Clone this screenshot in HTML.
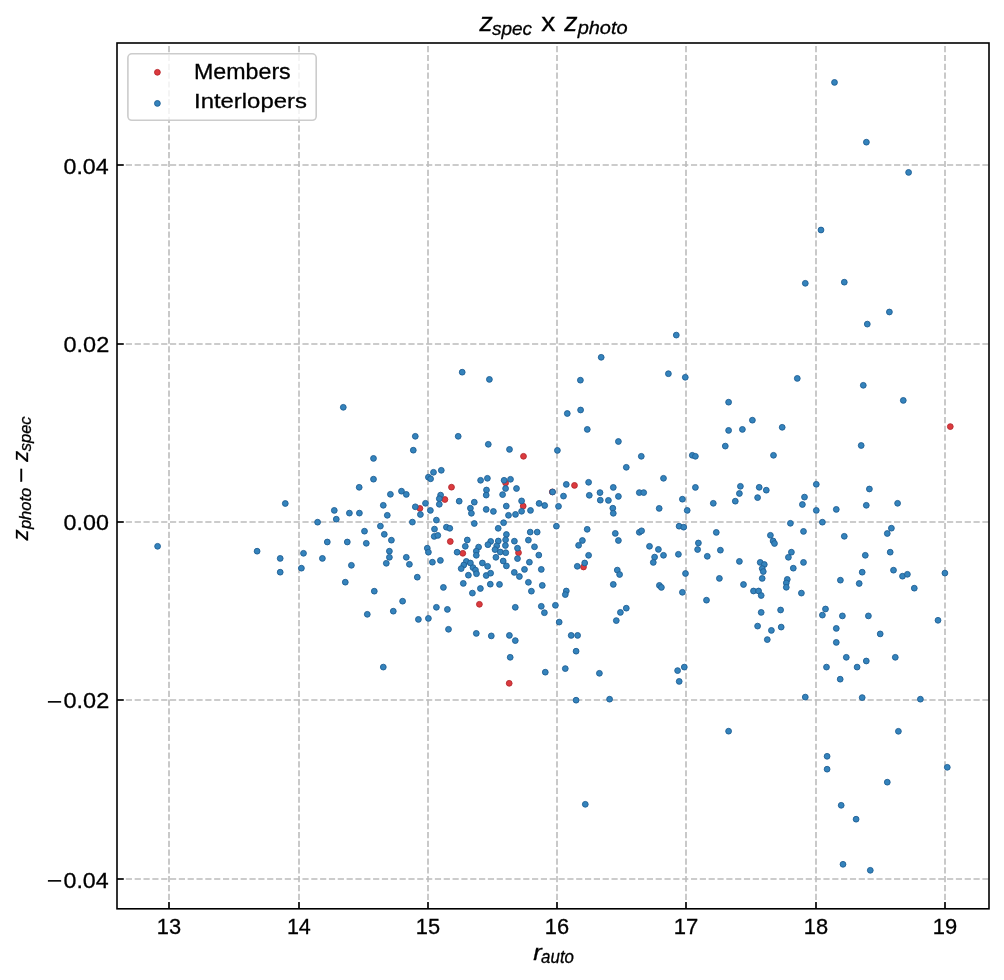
<!DOCTYPE html><html><head><meta charset="utf-8"><style>html,body{margin:0;padding:0;background:#fff;width:1004px;height:980px;overflow:hidden}svg{display:block;will-change:transform}text{font-family:"Liberation Sans",sans-serif;fill:#000;stroke:#000;stroke-width:0.3px;vector-effect:non-scaling-stroke}</style></head><body>
<svg width="1004" height="980" viewBox="0 0 1004 980">
<rect width="1004" height="980" fill="#fff"/>
<g stroke="#bcbcbc" stroke-width="1.6" stroke-dasharray="6.2 2.63" fill="none">
<line x1="169.00" y1="908.80" x2="169.00" y2="43.00"/>
<line x1="299.00" y1="908.80" x2="299.00" y2="43.00"/>
<line x1="428.00" y1="908.80" x2="428.00" y2="43.00"/>
<line x1="557.00" y1="908.80" x2="557.00" y2="43.00"/>
<line x1="686.00" y1="908.80" x2="686.00" y2="43.00"/>
<line x1="816.00" y1="908.80" x2="816.00" y2="43.00"/>
<line x1="945.00" y1="908.80" x2="945.00" y2="43.00"/>
<line x1="117.00" y1="165.00" x2="989.00" y2="165.00"/>
<line x1="117.00" y1="344.00" x2="989.00" y2="344.00"/>
<line x1="117.00" y1="522.00" x2="989.00" y2="522.00"/>
<line x1="117.00" y1="700.00" x2="989.00" y2="700.00"/>
<line x1="117.00" y1="879.00" x2="989.00" y2="879.00"/>
</g>
<g fill="#dc3a3e" stroke="#b32a30" stroke-width="0.9">
<circle cx="451.5" cy="487.2" r="2.9"/>
<circle cx="444.9" cy="499.5" r="2.9"/>
<circle cx="419.9" cy="508.4" r="2.9"/>
<circle cx="450.3" cy="541.5" r="2.9"/>
<circle cx="462.8" cy="553.3" r="2.9"/>
<circle cx="479.4" cy="604.3" r="2.9"/>
<circle cx="523.2" cy="506.1" r="2.9"/>
<circle cx="518.5" cy="552.7" r="2.9"/>
<circle cx="523.5" cy="456.3" r="2.9"/>
<circle cx="505.6" cy="482.9" r="2.9"/>
<circle cx="574.5" cy="485.4" r="2.9"/>
<circle cx="552.3" cy="491.9" r="2.9"/>
<circle cx="583.5" cy="567.0" r="2.9"/>
<circle cx="509.2" cy="683.3" r="2.9"/>
<circle cx="950.3" cy="426.6" r="2.9"/>
</g>
<g fill="#3483bc" stroke="#1f5f94" stroke-width="0.9">
<circle cx="157.6" cy="546.3" r="2.9"/>
<circle cx="285.3" cy="503.5" r="2.9"/>
<circle cx="257.1" cy="551.2" r="2.9"/>
<circle cx="280.2" cy="558.4" r="2.9"/>
<circle cx="280.2" cy="572.2" r="2.9"/>
<circle cx="303.5" cy="553.3" r="2.9"/>
<circle cx="301.4" cy="568.2" r="2.9"/>
<circle cx="317.6" cy="522.2" r="2.9"/>
<circle cx="334.3" cy="510.4" r="2.9"/>
<circle cx="336.3" cy="519.2" r="2.9"/>
<circle cx="327.3" cy="542.0" r="2.9"/>
<circle cx="322.4" cy="558.4" r="2.9"/>
<circle cx="349.4" cy="513.1" r="2.9"/>
<circle cx="359.4" cy="513.1" r="2.9"/>
<circle cx="359.2" cy="487.3" r="2.9"/>
<circle cx="373.5" cy="458.4" r="2.9"/>
<circle cx="373.5" cy="479.2" r="2.9"/>
<circle cx="347.3" cy="542.0" r="2.9"/>
<circle cx="364.5" cy="531.2" r="2.9"/>
<circle cx="366.3" cy="543.3" r="2.9"/>
<circle cx="351.4" cy="565.3" r="2.9"/>
<circle cx="345.3" cy="582.2" r="2.9"/>
<circle cx="374.3" cy="591.2" r="2.9"/>
<circle cx="367.3" cy="614.3" r="2.9"/>
<circle cx="390.4" cy="494.3" r="2.9"/>
<circle cx="383.3" cy="505.3" r="2.9"/>
<circle cx="387.3" cy="515.3" r="2.9"/>
<circle cx="380.4" cy="526.1" r="2.9"/>
<circle cx="384.3" cy="534.3" r="2.9"/>
<circle cx="391.4" cy="540.2" r="2.9"/>
<circle cx="389.4" cy="551.2" r="2.9"/>
<circle cx="389.4" cy="557.3" r="2.9"/>
<circle cx="386.3" cy="563.3" r="2.9"/>
<circle cx="393.3" cy="611.2" r="2.9"/>
<circle cx="413.3" cy="450.2" r="2.9"/>
<circle cx="488.3" cy="444.3" r="2.9"/>
<circle cx="441.3" cy="470.3" r="2.9"/>
<circle cx="433.5" cy="472.3" r="2.9"/>
<circle cx="428.4" cy="477.2" r="2.9"/>
<circle cx="430.6" cy="478.8" r="2.9"/>
<circle cx="480.6" cy="480.3" r="2.9"/>
<circle cx="487.4" cy="478.3" r="2.9"/>
<circle cx="486.5" cy="490.0" r="2.9"/>
<circle cx="486.2" cy="495.1" r="2.9"/>
<circle cx="401.5" cy="491.2" r="2.9"/>
<circle cx="406.3" cy="494.4" r="2.9"/>
<circle cx="440.6" cy="495.1" r="2.9"/>
<circle cx="439.3" cy="498.7" r="2.9"/>
<circle cx="439.3" cy="504.3" r="2.9"/>
<circle cx="459.2" cy="501.2" r="2.9"/>
<circle cx="474.3" cy="502.2" r="2.9"/>
<circle cx="470.4" cy="508.2" r="2.9"/>
<circle cx="471.4" cy="513.3" r="2.9"/>
<circle cx="486.2" cy="509.4" r="2.9"/>
<circle cx="493.4" cy="511.4" r="2.9"/>
<circle cx="425.5" cy="503.3" r="2.9"/>
<circle cx="415.3" cy="506.8" r="2.9"/>
<circle cx="420.4" cy="514.5" r="2.9"/>
<circle cx="430.4" cy="510.4" r="2.9"/>
<circle cx="412.4" cy="522.1" r="2.9"/>
<circle cx="436.4" cy="520.1" r="2.9"/>
<circle cx="474.3" cy="523.5" r="2.9"/>
<circle cx="434.5" cy="529.1" r="2.9"/>
<circle cx="434.2" cy="536.4" r="2.9"/>
<circle cx="437.8" cy="535.4" r="2.9"/>
<circle cx="446.4" cy="527.2" r="2.9"/>
<circle cx="449.8" cy="528.3" r="2.9"/>
<circle cx="498.2" cy="528.3" r="2.9"/>
<circle cx="467.3" cy="540.0" r="2.9"/>
<circle cx="427.3" cy="548.2" r="2.9"/>
<circle cx="428.4" cy="552.2" r="2.9"/>
<circle cx="406.3" cy="557.3" r="2.9"/>
<circle cx="409.4" cy="564.3" r="2.9"/>
<circle cx="432.4" cy="562.2" r="2.9"/>
<circle cx="440.4" cy="560.4" r="2.9"/>
<circle cx="457.1" cy="552.2" r="2.9"/>
<circle cx="465.3" cy="546.3" r="2.9"/>
<circle cx="478.6" cy="547.1" r="2.9"/>
<circle cx="476.3" cy="551.2" r="2.9"/>
<circle cx="476.3" cy="555.3" r="2.9"/>
<circle cx="466.3" cy="561.4" r="2.9"/>
<circle cx="463.8" cy="565.0" r="2.9"/>
<circle cx="461.2" cy="568.6" r="2.9"/>
<circle cx="470.4" cy="563.0" r="2.9"/>
<circle cx="473.0" cy="567.6" r="2.9"/>
<circle cx="475.5" cy="570.1" r="2.9"/>
<circle cx="476.5" cy="573.7" r="2.9"/>
<circle cx="468.4" cy="575.2" r="2.9"/>
<circle cx="482.4" cy="563.0" r="2.9"/>
<circle cx="487.6" cy="566.3" r="2.9"/>
<circle cx="486.2" cy="575.5" r="2.9"/>
<circle cx="490.6" cy="573.2" r="2.9"/>
<circle cx="463.3" cy="583.4" r="2.9"/>
<circle cx="480.4" cy="588.5" r="2.9"/>
<circle cx="472.4" cy="593.1" r="2.9"/>
<circle cx="490.3" cy="584.2" r="2.9"/>
<circle cx="499.5" cy="584.4" r="2.9"/>
<circle cx="495.9" cy="557.3" r="2.9"/>
<circle cx="417.3" cy="577.2" r="2.9"/>
<circle cx="443.4" cy="587.4" r="2.9"/>
<circle cx="402.6" cy="601.2" r="2.9"/>
<circle cx="436.4" cy="607.3" r="2.9"/>
<circle cx="447.4" cy="609.4" r="2.9"/>
<circle cx="418.4" cy="619.4" r="2.9"/>
<circle cx="428.4" cy="618.4" r="2.9"/>
<circle cx="448.5" cy="629.3" r="2.9"/>
<circle cx="476.3" cy="633.4" r="2.9"/>
<circle cx="491.3" cy="635.9" r="2.9"/>
<circle cx="506.3" cy="506.1" r="2.9"/>
<circle cx="521.6" cy="500.9" r="2.9"/>
<circle cx="539.1" cy="503.4" r="2.9"/>
<circle cx="508.5" cy="515.3" r="2.9"/>
<circle cx="515.5" cy="514.4" r="2.9"/>
<circle cx="521.6" cy="511.3" r="2.9"/>
<circle cx="530.5" cy="510.4" r="2.9"/>
<circle cx="503.6" cy="522.7" r="2.9"/>
<circle cx="530.2" cy="532.1" r="2.9"/>
<circle cx="537.2" cy="532.1" r="2.9"/>
<circle cx="528.4" cy="540.1" r="2.9"/>
<circle cx="534.5" cy="546.8" r="2.9"/>
<circle cx="538.8" cy="555.1" r="2.9"/>
<circle cx="506.4" cy="534.5" r="2.9"/>
<circle cx="505.6" cy="539.8" r="2.9"/>
<circle cx="505.4" cy="545.5" r="2.9"/>
<circle cx="514.4" cy="541.2" r="2.9"/>
<circle cx="517.5" cy="548.2" r="2.9"/>
<circle cx="517.5" cy="558.6" r="2.9"/>
<circle cx="490.7" cy="541.4" r="2.9"/>
<circle cx="487.9" cy="544.7" r="2.9"/>
<circle cx="498.3" cy="541.0" r="2.9"/>
<circle cx="496.7" cy="545.9" r="2.9"/>
<circle cx="495.0" cy="549.6" r="2.9"/>
<circle cx="500.3" cy="552.0" r="2.9"/>
<circle cx="505.8" cy="552.7" r="2.9"/>
<circle cx="503.2" cy="561.0" r="2.9"/>
<circle cx="506.4" cy="565.9" r="2.9"/>
<circle cx="509.5" cy="449.4" r="2.9"/>
<circle cx="557.4" cy="450.4" r="2.9"/>
<circle cx="504.1" cy="480.3" r="2.9"/>
<circle cx="510.5" cy="479.3" r="2.9"/>
<circle cx="505.6" cy="488.5" r="2.9"/>
<circle cx="516.5" cy="488.5" r="2.9"/>
<circle cx="502.6" cy="494.6" r="2.9"/>
<circle cx="544.7" cy="505.5" r="2.9"/>
<circle cx="552.6" cy="492.0" r="2.9"/>
<circle cx="563.5" cy="496.1" r="2.9"/>
<circle cx="566.3" cy="484.4" r="2.9"/>
<circle cx="588.6" cy="482.3" r="2.9"/>
<circle cx="589.3" cy="495.3" r="2.9"/>
<circle cx="558.5" cy="506.3" r="2.9"/>
<circle cx="556.4" cy="526.2" r="2.9"/>
<circle cx="587.2" cy="529.3" r="2.9"/>
<circle cx="618.4" cy="441.5" r="2.9"/>
<circle cx="641.3" cy="456.3" r="2.9"/>
<circle cx="626.3" cy="467.3" r="2.9"/>
<circle cx="663.5" cy="478.3" r="2.9"/>
<circle cx="692.3" cy="455.3" r="2.9"/>
<circle cx="695.4" cy="456.3" r="2.9"/>
<circle cx="695.4" cy="487.4" r="2.9"/>
<circle cx="613.3" cy="487.4" r="2.9"/>
<circle cx="600.0" cy="492.6" r="2.9"/>
<circle cx="618.4" cy="496.4" r="2.9"/>
<circle cx="600.3" cy="500.2" r="2.9"/>
<circle cx="608.4" cy="500.4" r="2.9"/>
<circle cx="639.3" cy="492.6" r="2.9"/>
<circle cx="643.7" cy="492.6" r="2.9"/>
<circle cx="612.8" cy="508.2" r="2.9"/>
<circle cx="613.3" cy="513.3" r="2.9"/>
<circle cx="659.2" cy="508.4" r="2.9"/>
<circle cx="682.4" cy="499.2" r="2.9"/>
<circle cx="687.2" cy="510.4" r="2.9"/>
<circle cx="679.1" cy="526.2" r="2.9"/>
<circle cx="683.7" cy="527.2" r="2.9"/>
<circle cx="615.3" cy="533.4" r="2.9"/>
<circle cx="639.3" cy="532.3" r="2.9"/>
<circle cx="641.6" cy="530.8" r="2.9"/>
<circle cx="529.4" cy="562.2" r="2.9"/>
<circle cx="524.5" cy="569.4" r="2.9"/>
<circle cx="541.3" cy="569.4" r="2.9"/>
<circle cx="514.3" cy="572.4" r="2.9"/>
<circle cx="519.4" cy="576.5" r="2.9"/>
<circle cx="528.4" cy="582.3" r="2.9"/>
<circle cx="542.3" cy="585.4" r="2.9"/>
<circle cx="531.4" cy="591.2" r="2.9"/>
<circle cx="515.3" cy="607.3" r="2.9"/>
<circle cx="541.3" cy="606.3" r="2.9"/>
<circle cx="544.4" cy="612.7" r="2.9"/>
<circle cx="555.4" cy="605.3" r="2.9"/>
<circle cx="559.2" cy="622.1" r="2.9"/>
<circle cx="566.3" cy="591.0" r="2.9"/>
<circle cx="565.3" cy="594.6" r="2.9"/>
<circle cx="582.4" cy="540.5" r="2.9"/>
<circle cx="578.6" cy="545.3" r="2.9"/>
<circle cx="588.6" cy="555.3" r="2.9"/>
<circle cx="584.7" cy="563.0" r="2.9"/>
<circle cx="577.3" cy="566.3" r="2.9"/>
<circle cx="509.4" cy="635.4" r="2.9"/>
<circle cx="571.2" cy="635.4" r="2.9"/>
<circle cx="577.6" cy="635.4" r="2.9"/>
<circle cx="618.4" cy="540.5" r="2.9"/>
<circle cx="649.5" cy="546.3" r="2.9"/>
<circle cx="658.4" cy="549.4" r="2.9"/>
<circle cx="663.5" cy="555.3" r="2.9"/>
<circle cx="654.6" cy="557.1" r="2.9"/>
<circle cx="653.3" cy="562.4" r="2.9"/>
<circle cx="678.4" cy="554.3" r="2.9"/>
<circle cx="685.5" cy="573.5" r="2.9"/>
<circle cx="617.3" cy="570.1" r="2.9"/>
<circle cx="619.6" cy="574.5" r="2.9"/>
<circle cx="613.3" cy="584.4" r="2.9"/>
<circle cx="659.4" cy="585.4" r="2.9"/>
<circle cx="661.4" cy="587.4" r="2.9"/>
<circle cx="682.4" cy="592.3" r="2.9"/>
<circle cx="626.3" cy="608.2" r="2.9"/>
<circle cx="620.4" cy="612.4" r="2.9"/>
<circle cx="616.3" cy="620.6" r="2.9"/>
<circle cx="343.3" cy="407.3" r="2.9"/>
<circle cx="462.2" cy="372.2" r="2.9"/>
<circle cx="489.4" cy="379.4" r="2.9"/>
<circle cx="415.3" cy="436.3" r="2.9"/>
<circle cx="458.2" cy="436.3" r="2.9"/>
<circle cx="676.3" cy="335.1" r="2.9"/>
<circle cx="601.2" cy="357.3" r="2.9"/>
<circle cx="580.4" cy="380.2" r="2.9"/>
<circle cx="668.4" cy="373.7" r="2.9"/>
<circle cx="685.3" cy="377.3" r="2.9"/>
<circle cx="567.3" cy="413.5" r="2.9"/>
<circle cx="580.6" cy="410.0" r="2.9"/>
<circle cx="587.3" cy="429.4" r="2.9"/>
<circle cx="383.3" cy="667.1" r="2.9"/>
<circle cx="515.3" cy="640.6" r="2.9"/>
<circle cx="510.2" cy="657.3" r="2.9"/>
<circle cx="545.3" cy="672.2" r="2.9"/>
<circle cx="565.3" cy="668.6" r="2.9"/>
<circle cx="576.1" cy="651.2" r="2.9"/>
<circle cx="599.4" cy="673.3" r="2.9"/>
<circle cx="576.1" cy="700.2" r="2.9"/>
<circle cx="609.6" cy="699.2" r="2.9"/>
<circle cx="677.6" cy="670.6" r="2.9"/>
<circle cx="684.3" cy="667.1" r="2.9"/>
<circle cx="679.2" cy="681.4" r="2.9"/>
<circle cx="585.3" cy="804.3" r="2.9"/>
<circle cx="805.3" cy="283.3" r="2.9"/>
<circle cx="844.3" cy="282.2" r="2.9"/>
<circle cx="889.4" cy="312.0" r="2.9"/>
<circle cx="867.3" cy="324.1" r="2.9"/>
<circle cx="797.3" cy="378.4" r="2.9"/>
<circle cx="863.3" cy="385.3" r="2.9"/>
<circle cx="728.6" cy="402.2" r="2.9"/>
<circle cx="752.4" cy="420.2" r="2.9"/>
<circle cx="728.6" cy="430.4" r="2.9"/>
<circle cx="742.4" cy="429.4" r="2.9"/>
<circle cx="782.2" cy="427.3" r="2.9"/>
<circle cx="698.4" cy="543.0" r="2.9"/>
<circle cx="697.6" cy="549.5" r="2.9"/>
<circle cx="725.3" cy="446.1" r="2.9"/>
<circle cx="773.5" cy="455.3" r="2.9"/>
<circle cx="861.2" cy="445.5" r="2.9"/>
<circle cx="740.4" cy="486.3" r="2.9"/>
<circle cx="739.4" cy="493.5" r="2.9"/>
<circle cx="735.3" cy="501.2" r="2.9"/>
<circle cx="713.3" cy="503.3" r="2.9"/>
<circle cx="759.2" cy="487.3" r="2.9"/>
<circle cx="766.3" cy="490.2" r="2.9"/>
<circle cx="757.6" cy="497.6" r="2.9"/>
<circle cx="816.3" cy="484.3" r="2.9"/>
<circle cx="804.5" cy="497.1" r="2.9"/>
<circle cx="802.4" cy="504.5" r="2.9"/>
<circle cx="816.3" cy="510.4" r="2.9"/>
<circle cx="836.3" cy="509.4" r="2.9"/>
<circle cx="869.4" cy="489.0" r="2.9"/>
<circle cx="866.3" cy="505.3" r="2.9"/>
<circle cx="897.6" cy="503.3" r="2.9"/>
<circle cx="790.4" cy="523.3" r="2.9"/>
<circle cx="822.4" cy="522.2" r="2.9"/>
<circle cx="716.3" cy="532.4" r="2.9"/>
<circle cx="803.5" cy="531.4" r="2.9"/>
<circle cx="844.3" cy="536.3" r="2.9"/>
<circle cx="770.4" cy="535.3" r="2.9"/>
<circle cx="773.1" cy="541.0" r="2.9"/>
<circle cx="774.5" cy="543.5" r="2.9"/>
<circle cx="720.4" cy="550.2" r="2.9"/>
<circle cx="707.3" cy="556.3" r="2.9"/>
<circle cx="739.4" cy="561.4" r="2.9"/>
<circle cx="791.4" cy="552.2" r="2.9"/>
<circle cx="788.4" cy="557.3" r="2.9"/>
<circle cx="803.5" cy="562.4" r="2.9"/>
<circle cx="793.3" cy="568.2" r="2.9"/>
<circle cx="760.2" cy="562.4" r="2.9"/>
<circle cx="764.3" cy="564.5" r="2.9"/>
<circle cx="762.2" cy="568.6" r="2.9"/>
<circle cx="763.3" cy="571.6" r="2.9"/>
<circle cx="762.2" cy="578.4" r="2.9"/>
<circle cx="719.4" cy="578.4" r="2.9"/>
<circle cx="743.5" cy="584.5" r="2.9"/>
<circle cx="787.3" cy="579.4" r="2.9"/>
<circle cx="786.3" cy="582.9" r="2.9"/>
<circle cx="786.3" cy="587.3" r="2.9"/>
<circle cx="753.5" cy="591.0" r="2.9"/>
<circle cx="758.6" cy="591.0" r="2.9"/>
<circle cx="761.2" cy="595.5" r="2.9"/>
<circle cx="801.4" cy="593.1" r="2.9"/>
<circle cx="706.5" cy="600.2" r="2.9"/>
<circle cx="761.2" cy="612.4" r="2.9"/>
<circle cx="780.6" cy="610.0" r="2.9"/>
<circle cx="757.6" cy="626.1" r="2.9"/>
<circle cx="771.4" cy="630.4" r="2.9"/>
<circle cx="781.2" cy="627.1" r="2.9"/>
<circle cx="891.4" cy="528.2" r="2.9"/>
<circle cx="887.3" cy="533.5" r="2.9"/>
<circle cx="865.3" cy="555.3" r="2.9"/>
<circle cx="890.2" cy="552.2" r="2.9"/>
<circle cx="893.5" cy="570.2" r="2.9"/>
<circle cx="862.2" cy="572.2" r="2.9"/>
<circle cx="840.4" cy="580.2" r="2.9"/>
<circle cx="859.2" cy="583.5" r="2.9"/>
<circle cx="825.5" cy="609.0" r="2.9"/>
<circle cx="822.4" cy="615.1" r="2.9"/>
<circle cx="842.4" cy="615.9" r="2.9"/>
<circle cx="868.4" cy="615.9" r="2.9"/>
<circle cx="836.3" cy="628.4" r="2.9"/>
<circle cx="880.2" cy="633.9" r="2.9"/>
<circle cx="767.3" cy="639.6" r="2.9"/>
<circle cx="836.3" cy="642.4" r="2.9"/>
<circle cx="846.3" cy="657.3" r="2.9"/>
<circle cx="866.3" cy="661.0" r="2.9"/>
<circle cx="857.1" cy="667.1" r="2.9"/>
<circle cx="826.5" cy="667.1" r="2.9"/>
<circle cx="840.2" cy="679.2" r="2.9"/>
<circle cx="895.3" cy="657.3" r="2.9"/>
<circle cx="805.3" cy="697.1" r="2.9"/>
<circle cx="862.2" cy="697.6" r="2.9"/>
<circle cx="728.6" cy="731.2" r="2.9"/>
<circle cx="827.1" cy="756.3" r="2.9"/>
<circle cx="827.1" cy="769.2" r="2.9"/>
<circle cx="887.3" cy="782.2" r="2.9"/>
<circle cx="841.2" cy="805.3" r="2.9"/>
<circle cx="856.1" cy="819.2" r="2.9"/>
<circle cx="843.0" cy="864.3" r="2.9"/>
<circle cx="870.3" cy="870.3" r="2.9"/>
<circle cx="834.5" cy="82.4" r="2.9"/>
<circle cx="866.4" cy="142.2" r="2.9"/>
<circle cx="908.6" cy="172.4" r="2.9"/>
<circle cx="821.0" cy="230.0" r="2.9"/>
<circle cx="903.3" cy="400.4" r="2.9"/>
<circle cx="902.5" cy="576.2" r="2.9"/>
<circle cx="907.4" cy="574.3" r="2.9"/>
<circle cx="914.3" cy="588.2" r="2.9"/>
<circle cx="944.9" cy="573.1" r="2.9"/>
<circle cx="938.0" cy="620.3" r="2.9"/>
<circle cx="920.4" cy="699.2" r="2.9"/>
<circle cx="898.4" cy="731.3" r="2.9"/>
<circle cx="947.3" cy="767.3" r="2.9"/>
</g>
<rect x="117.0" y="43.0" width="872.0" height="865.8" fill="none" stroke="#000" stroke-width="1.6"/>
<g stroke="#000" stroke-width="1.6">
<line x1="169.00" y1="908.80" x2="169.00" y2="902.00"/>
<line x1="299.00" y1="908.80" x2="299.00" y2="902.00"/>
<line x1="428.00" y1="908.80" x2="428.00" y2="902.00"/>
<line x1="557.00" y1="908.80" x2="557.00" y2="902.00"/>
<line x1="686.00" y1="908.80" x2="686.00" y2="902.00"/>
<line x1="816.00" y1="908.80" x2="816.00" y2="902.00"/>
<line x1="945.00" y1="908.80" x2="945.00" y2="902.00"/>
<line x1="117.00" y1="165.00" x2="123.80" y2="165.00"/>
<line x1="117.00" y1="344.00" x2="123.80" y2="344.00"/>
<line x1="117.00" y1="522.00" x2="123.80" y2="522.00"/>
<line x1="117.00" y1="700.00" x2="123.80" y2="700.00"/>
<line x1="117.00" y1="879.00" x2="123.80" y2="879.00"/>
</g>
<rect x="127.9" y="53.8" width="188.3" height="66.5" rx="4" ry="4" fill="#fff" fill-opacity="0.8" stroke="#cccccc" stroke-width="1.6"/>
<circle cx="157.4" cy="72.3" r="2.9" fill="#dc3a3e" stroke="#b8242a" stroke-width="0.9"/>
<circle cx="157.4" cy="103.4" r="2.9" fill="#3483bc" stroke="#1f5f94" stroke-width="0.9"/>
<text transform="matrix(0.10905 0 0 0.10915 156.864 933.632)" font-size="200">13</text>
<text transform="matrix(0.10743 0 0 0.11232 286.889 933.850)" font-size="200">14</text>
<text transform="matrix(0.10905 0 0 0.11071 415.864 933.629)" font-size="200">15</text>
<text transform="matrix(0.10905 0 0 0.10915 544.864 933.632)" font-size="200">16</text>
<text transform="matrix(0.11015 0 0 0.11232 673.848 933.850)" font-size="200">17</text>
<text transform="matrix(0.10905 0 0 0.10915 803.864 933.632)" font-size="200">18</text>
<text transform="matrix(0.10960 0 0 0.10915 932.856 933.632)" font-size="200">19</text>
<text transform="matrix(0.11600 0 0 0.10915 63.522 887.532)" font-size="200">0.04</text>
<text transform="matrix(0.13299 0 0 0.10714 46.720 888.179)" font-size="200">−</text>
<text transform="matrix(0.11756 0 0 0.11306 63.501 708.265)" font-size="200">0.02</text>
<text transform="matrix(0.13299 0 0 0.10714 46.720 709.179)" font-size="200">−</text>
<text transform="matrix(0.11649 0 0 0.11324 63.517 530.264)" font-size="200">0.00</text>
<text transform="matrix(0.11756 0 0 0.11306 63.501 352.265)" font-size="200">0.02</text>
<text transform="matrix(0.11600 0 0 0.10915 63.522 173.532)" font-size="200">0.04</text>
<text transform="matrix(0.13265 0 0 0.12736 479.383 30.750)" font-size="200" style="font-style:italic">z</text>
<text transform="matrix(0.09492 0 0 0.08765 491.944 35.068)" font-size="200" style="font-style:italic">spec</text>
<text transform="matrix(0.14029 0 0 0.12648 541.288 30.703)" font-size="200">x</text>
<text transform="matrix(0.13265 0 0 0.12736 564.283 30.650)" font-size="200" style="font-style:italic">z</text>
<text transform="matrix(0.10003 0 0 0.09198 577.635 33.833)" font-size="200" style="font-style:italic">photo</text>
<text transform="matrix(0.12714 0 0 0.11204 533.369 959.750)" font-size="200" style="font-style:italic">r</text>
<text transform="matrix(0.08446 0 0 0.08714 541.101 963.051)" font-size="200" style="font-style:italic">auto</text>
<text transform="matrix(0 -0.11020 0.11038 0 28.150 540.540)" font-size="200" style="font-style:italic">z</text>
<text transform="matrix(0 -0.08254 0.07863 0 30.813 529.056)" font-size="200" style="font-style:italic">photo</text>
<text transform="matrix(0 -0.12990 0.11429 0 28.657 482.799)" font-size="200">−</text>
<text transform="matrix(0 -0.10918 0.10849 0 27.850 461.841)" font-size="200" style="font-style:italic">z</text>
<text transform="matrix(0 -0.08247 0.08015 0 30.759 451.265)" font-size="200" style="font-style:italic">spec</text>
<text transform="matrix(0.11621 0 0 0.10907 193.972 78.766)" font-size="200">Members</text>
<text transform="matrix(0.11957 0 0 0.10214 193.998 108.260)" font-size="200">Interlopers</text>
</svg></body></html>
